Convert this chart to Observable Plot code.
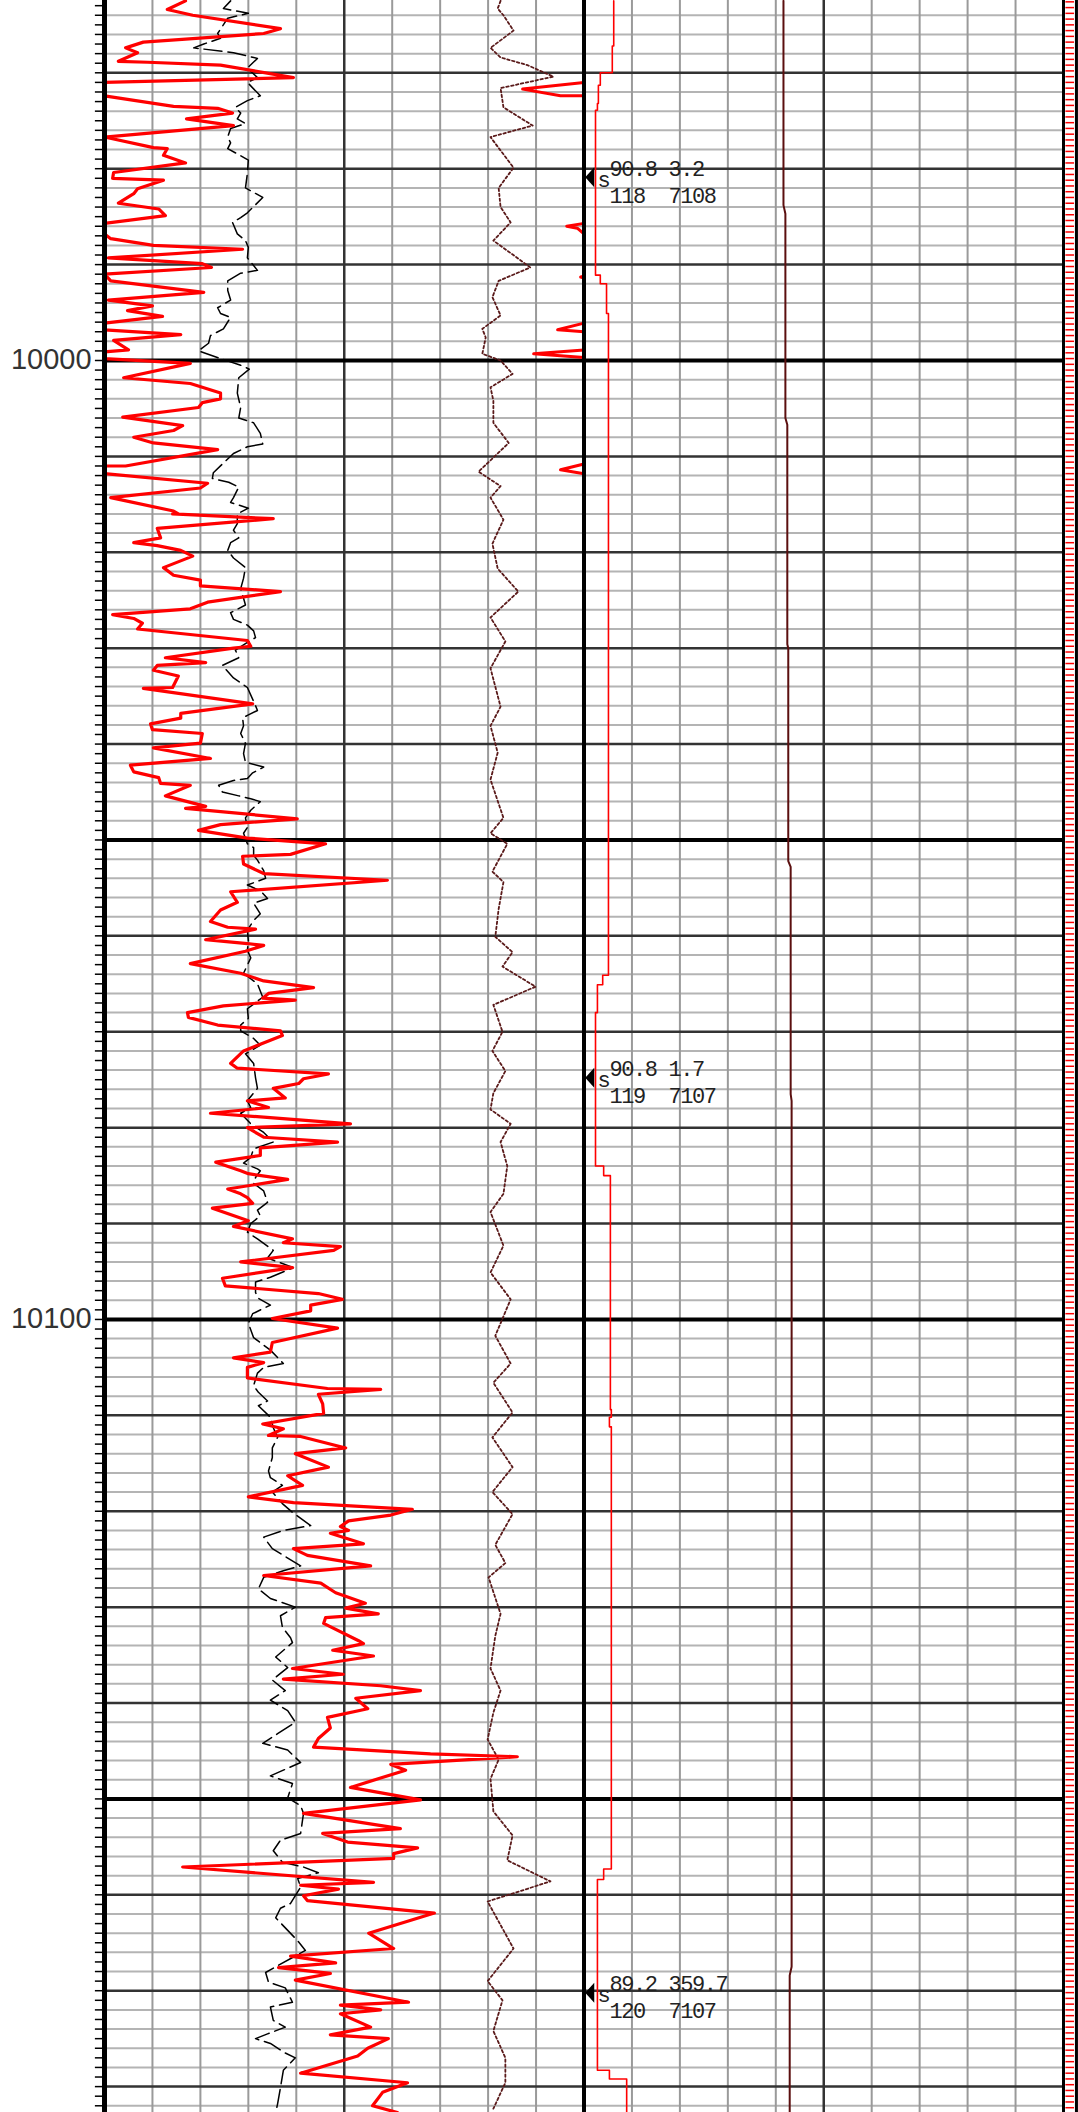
<!DOCTYPE html>
<html>
<head>
<meta charset="utf-8">
<script src="https://cdn.jsdelivr.net/npm/d3@7"></script>
<script src="https://cdn.jsdelivr.net/npm/@observablehq/plot@0.6"></script>
<style>
  html, body { margin: 0; padding: 0; background: #fff; }
  svg { display: block; }
  .survey text { letter-spacing: -1.4px; }
</style>
</head>
<body>
<div id="chart"></div>
<script>
// ---- depth window and labels (ft) ----
const depthTop = 9962.46;
const depthBottom = 10182.70;
const depthLabels = [10000, 10100];

// ---- curves: [depth (ft), value (chart divisions, 0..20)] ----
const grCurve = [
[9962.5,1.69],[9963.4,1.31],[9964.0,1.84],[9965.4,3.67],[9965.9,3.32],[9966.8,0.81],[9967.4,0.44],[9967.9,0.69],[9968.8,0.29],[9968.9,0.90],
[9969.2,2.42],[9970.5,3.94],[9971.0,0],[9972.4,0],[9973.5,1.44],[9973.7,2.36],[9974.2,2.67],[9974.8,1.71],[9975.5,2.69],[9976.7,0],
[9977.8,1.02],[9977.9,1.31],[9978.6,1.23],[9979.4,1.69],[9980.4,0.19],[9981.0,0.17],[9981.2,1.23],[9982.1,0.69],[9982.6,0.61],[9983.6,0.29],
[9984.2,1.13],[9984.9,1.27],[9985.7,0],[9986.8,0],[9987.3,0.13],[9988.0,1.02],[9988.4,2.88],[9989.3,0.08],[9989.9,2.04],[9990.3,2.23],
[9991.0,0],[9991.7,0.13],[9992.9,2.07],[9993.7,0.08],[9994.3,1.0],[9994.8,0.48],[9995.4,1.21],[9996.1,0],[9996.8,0],[9997.3,1.59],
[9997.9,0.19],[9998.9,0.5],[9999.1,0],[9999.8,0],[10000.3,1.79],[10001.8,0.40],[10002.4,1.79],[10003.4,2.42],[10004.0,2.42],[10004.4,2.04],
[10004.9,1.96],[10005.9,0.38],[10006.8,1.63],[10007.3,1.44],[10008.0,0.61],[10008.6,1.02],[10009.3,2.36],[10011.0,0.44],[10011.0,0],[10011.8,0],
[10012.8,2.15],[10013.3,2.0],[10014.3,0.13],[10015.7,1.44],[10016.0,1.54],[10016.0,1.42],[10016.5,3.52],[10017.5,1.1],[10018.5,1.17],[10019.0,0.61],
[10019.3,1.1],[10019.8,1.59],[10020.4,1.84],[10021.6,1.23],[10022.4,1.44],[10022.9,2.0],[10023.5,2.0],[10024.1,3.67],[10025.2,2.15],[10025.9,1.79],
[10026.5,0.17],[10026.9,0.61],[10027.4,0.79],[10028.0,0.69],[10029.2,2.98],[10029.8,3.05],[10030.0,2.69],[10031.0,1.27],[10031.5,2.11],[10031.8,1.1],
[10032.3,1.02],[10032.9,1.54],[10034.1,1.42],[10034.2,0.81],[10035.8,3.09],[10036.8,1.59],[10037.3,1.59],[10037.9,0.96],[10038.5,1.0],[10038.9,2.04],
[10039.9,2.0],[10040.4,1.02],[10041.5,2.21],[10042.2,0.54],[10042.9,0.61],[10043.5,1.13],[10044.1,1.17],[10044.3,1.79],[10045.4,1.27],[10046.5,2.11],
[10046.7,1.69],[10047.8,4.02],[10048.4,2.42],[10049.0,1.96],[10049.8,2.98],[10050.4,4.61],[10051.5,3.88],[10051.7,2.88],[10052.5,2.9],[10053.5,3.32],
[10054.2,5.90],[10055.4,2.63],[10056.5,2.77],[10057.3,2.42],[10058.5,2.21],[10059.1,2.57],[10059.3,3.15],[10060.4,2.11],[10060.8,2.98],[10061.0,3.32],
[10061.6,2.94],[10062.9,1.79],[10063.9,2.84],[10064.7,3.32],[10065.4,4.36],[10066.0,3.42],[10066.5,3.30],[10066.7,3.98],[10067.3,2.48],[10068.0,1.73],
[10068.5,1.75],[10069.3,2.36],[10069.9,3.67],[10070.4,3.71],[10072.0,2.90],[10073.3,2.63],[10073.8,2.77],[10074.4,4.67],[10074.9,4.15],[10075.4,4.05],
[10075.9,3.52],[10076.9,3.77],[10077.2,2.98],[10077.9,3.42],[10078.5,2.21],[10078.9,3.32],[10079.6,5.13],[10080.0,2.98],[10081.0,3.32],[10081.5,4.86],
[10082.1,3.25],[10082.9,3.25],[10083.6,2.32],[10084.5,2.84],[10084.8,3.0],[10085.4,3.82],[10086.4,2.57],[10086.9,2.84],[10087.3,2.98],[10087.9,3.09],
[10088.4,2.25],[10089.7,3.0],[10090.3,2.69],[10091.6,3.92],[10092.0,3.73],[10092.4,4.92],[10092.8,4.78],[10094.0,2.84],[10094.6,3.92],[10095.7,2.46],
[10096.5,2.52],[10097.3,4.46],[10097.9,4.96],[10098.5,4.30],[10099.1,4.30],[10099.9,3.50],[10100.9,4.86],[10102.4,3.50],[10103.4,3.46],[10104.0,2.69],
[10104.5,3.32],[10105.0,2.98],[10106.1,2.98],[10107.2,4.65],[10107.3,5.76],[10107.8,4.46],[10108.8,4.55],[10109.8,4.57],[10110.9,3.30],[10111.4,3.73],
[10112.1,3.42],[10112.2,4.09],[10113.4,5.03],[10114.0,3.98],[10115.4,4.67],[10116.3,3.82],[10117.3,4.13],[10118.5,3.0],[10119.1,3.94],[10119.8,6.42],
[10120.4,5.97],[10121.0,5.09],[10121.6,4.92],[10122.0,5.09],[10122.3,4.71],[10123.4,5.40],[10123.9,3.94],[10124.6,4.23],[10125.7,5.55],[10126.7,3.32],
[10127.5,4.51],[10128.5,4.82],[10129.6,5.44],[10130.1,5.03],[10130.7,5.71],[10131.1,4.61],[10131.7,4.57],[10133.5,5.30],[10133.8,5.40],[10134.5,4.76],
[10135.1,5.61],[10136.4,3.92],[10137.0,4.98],[10137.5,3.73],[10138.2,5.76],[10138.7,6.59],[10139.5,5.24],[10140.6,5.49],[10141.5,4.65],[10142.6,4.71],
[10143.7,4.46],[10144.6,4.36],[10145.3,6.80],[10145.6,8.61],[10146.4,5.97],[10147.0,6.28],[10148.8,5.13],[10150.1,6.59],[10151.5,4.15],[10153.1,6.17],
[10153.6,4.55],[10154.5,5.07],[10155.1,6.53],[10155.7,6.03],[10156.2,6.03],[10157.1,1.63],[10158.7,5.61],[10159.0,4.09],[10159.4,4.88],[10160.1,4.15],
[10160.6,4.23],[10161.9,6.88],[10164.0,5.51],[10165.6,6.03],[10166.4,3.88],[10167.1,4.82],[10167.6,3.63],[10168.2,4.71],[10168.9,3.98],[10171.2,6.34],
[10171.5,4.92],[10172.0,5.76],[10172.4,4.92],[10173.8,5.55],[10174.6,4.71],[10175.0,5.92],[10176.0,5.49],[10176.8,5.28],[10178.6,4.09],[10179.6,6.32],
[10180.6,5.80],[10182.0,5.59],[10182.7,6.11]
];

const spCurve = [
[9962.5,2.63],[9963.3,2.48],[9963.8,3.0],[9964.3,2.57],[9965.9,2.36],[9966.4,2.42],[9967.0,2.07],[9967.4,1.86],[9967.9,2.69],[9968.5,3.19],
[9969.5,2.98],[9970.5,3.19],[9971.0,2.98],[9972.4,3.25],[9972.9,2.98],[9973.6,2.73],[9974.2,2.84],[9974.8,2.77],[9975.3,2.94],[9975.8,2.63],
[9976.7,2.57],[9977.3,2.63],[9977.9,2.57],[9979.1,3.0],[9980.5,2.98],[9982.0,2.94],[9983.0,3.3],[9984.6,2.98],[9985.1,2.84],[9985.6,2.67],
[9986.8,2.77],[9987.5,2.94],[9988.2,3.0],[9989.3,2.98],[9990.6,3.19],[9990.9,2.84],[9991.7,2.57],[9992.7,2.57],[9993.7,2.63],[9994.5,2.36],
[9995.1,2.42],[9995.5,2.63],[9996.7,2.48],[9997.4,2.21],[9998.2,2.17],[9999.0,1.96],[9999.8,2.42],[10000.5,2.84],[10000.9,3.02],[10001.8,2.8],
[10003.4,2.77],[10004.9,2.84],[10006.0,2.8],[10006.5,3.11],[10007.6,3.25],[10008.7,3.3],[10009.0,2.98],[10009.7,2.69],[10010.7,2.48],[10011.7,2.27],
[10012.3,2.25],[10012.7,2.59],[10013.2,2.8],[10014.3,2.69],[10014.8,2.63],[10015.4,3.0],[10016.0,2.77],[10017.0,2.77],[10017.7,2.69],[10018.5,2.8],
[10019.0,2.63],[10019.8,2.57],[10020.6,2.69],[10021.6,2.94],[10022.7,2.9],[10023.8,2.84],[10024.8,2.9],[10025.5,2.94],[10026.3,2.63],[10027.0,2.69],
[10027.6,2.98],[10028.2,3.11],[10028.9,3.15],[10029.4,2.98],[10030.2,2.73],[10031.0,2.8],[10031.8,2.46],[10033.1,2.69],[10034.1,2.98],[10036.0,3.15],
[10036.5,3.19],[10037.0,2.98],[10037.3,2.88],[10038.1,2.9],[10038.9,2.84],[10039.9,2.94],[10041.0,2.9],[10041.9,2.94],[10042.4,3.32],[10043.0,3.09],
[10043.6,2.98],[10043.8,2.69],[10044.3,2.38],[10045.0,2.46],[10045.4,2.8],[10045.7,3.05],[10046.0,3.25],[10046.9,3.05],[10047.7,2.94],[10048.7,2.98],
[10049.3,2.9],[10050.4,2.98],[10050.8,3.11],[10051.6,3.11],[10052.1,3.19],[10053.2,3.32],[10054.0,3.36],[10054.7,2.98],[10055.3,3.25],[10056.1,3.4],
[10056.6,3.11],[10057.7,3.25],[10058.4,3.11],[10059.4,2.98],[10060.5,3.0],[10061.5,2.98],[10062.3,3.05],[10063.9,2.9],[10065.0,3.19],[10066.4,3.3],
[10067.6,2.98],[10068.6,3.0],[10069.3,2.84],[10069.9,2.84],[10070.7,3.11],[10071.4,3.25],[10072.3,2.94],[10073.3,3.11],[10074.8,3.15],[10075.9,3.19],
[10077.2,2.98],[10077.9,3.05],[10078.5,2.84],[10079.6,3.05],[10080.5,3.32],[10081.5,3.52],[10082.2,3.11],[10083.1,3.05],[10083.7,2.9],[10084.3,3.19],
[10084.5,3.25],[10085.2,3.15],[10085.8,3.11],[10086.6,3.32],[10087.8,3.4],[10088.6,3.19],[10089.2,3.25],[10090.0,3.05],[10090.9,2.98],[10091.6,3.19],
[10092.8,3.52],[10093.6,3.4],[10094.6,3.94],[10095.6,3.46],[10096.1,3.15],[10097.2,3.15],[10097.8,3.21],[10098.5,3.46],[10099.4,3.09],[10100.4,3.0],
[10101.9,3.11],[10103.2,3.46],[10104.6,3.73],[10105.0,3.32],[10105.6,3.19],[10106.9,3.11],[10107.6,3.21],[10108.5,3.4],[10109.0,3.21],[10110.2,3.46],
[10111.3,3.52],[10112.3,3.61],[10113.4,3.5],[10114.4,3.5],[10115.8,3.42],[10116.5,3.46],[10117.3,3.71],[10118.0,3.5],[10119.2,3.71],[10120.2,3.94],
[10121.5,4.3],[10122.0,3.73],[10122.7,3.32],[10123.9,3.5],[10125.7,4.09],[10126.2,3.73],[10126.9,3.32],[10128.1,3.21],[10129.1,3.46],[10130.0,3.98],
[10130.9,3.67],[10132.1,3.71],[10133.2,3.88],[10133.7,3.92],[10135.2,3.57],[10136.3,3.82],[10137.6,3.5],[10138.7,3.77],[10139.7,3.46],[10140.8,3.82],
[10142.0,3.98],[10143.2,3.61],[10144.2,3.3],[10144.9,3.82],[10146.2,4.09],[10147.6,3.46],[10148.4,3.92],[10149.9,3.82],[10150.7,4.09],[10151.5,4.15],
[10153.6,4.09],[10154.3,3.67],[10155.4,3.52],[10156.6,3.71],[10157.1,4.15],[10157.7,4.46],[10158.3,4.03],[10159.2,4.09],[10160.9,3.88],[10161.4,3.67],
[10162.4,3.57],[10164.8,4.03],[10165.8,4.19],[10167.4,3.61],[10168.1,3.36],[10169.1,3.42],[10169.7,3.77],[10171.2,3.92],[10171.7,3.46],[10173.1,3.52],
[10173.8,3.77],[10174.5,3.4],[10175.0,3.15],[10175.5,3.46],[10176.5,3.77],[10177.0,3.98],[10178.3,3.73],[10180.1,3.67],[10181.8,3.61],[10182.7,3.57]
];

const dottedCurve = [
[9962.5,8.26],[9963.3,8.20],[9964.0,8.32],[9965.6,8.53],[9967.4,8.05],[9968.4,8.26],[9969.2,8.82],[9970.4,9.36],[9971.6,8.26],[9973.6,8.32],
[9975.5,8.93],[9976.7,8.05],[9978.1,8.26],[9979.9,8.53],[9982.0,8.22],[9984.0,8.26],[9985.6,8.47],[9987.5,8.11],[9988.8,8.47],[9990.3,8.88],
[9991.7,8.22],[9993.4,8.09],[9995.3,8.26],[9996.7,7.88],[9997.6,7.95],[9999.3,7.88],[10000.0,8.26],[10001.4,8.51],[10002.8,8.05],[10004.2,8.11],
[10006.5,8.11],[10008.6,8.43],[10011.6,7.80],[10013.1,8.26],[10014.3,8.05],[10016.6,8.32],[10019.1,8.09],[10021.7,8.20],[10024.1,8.63],[10026.8,8.05],
[10029.3,8.36],[10032.1,8.05],[10036.1,8.26],[10038.1,8.05],[10040.9,8.20],[10043.7,8.05],[10047.7,8.32],[10049.3,8.05],[10050.4,8.40],[10053.3,8.09],
[10054.4,8.32],[10057.2,8.22],[10060.1,8.15],[10061.7,8.51],[10063.2,8.30],[10065.3,8.99],[10067.2,8.11],[10070.0,8.30],[10072.0,8.09],[10074.1,8.36],
[10076.4,8.11],[10078.1,8.05],[10079.6,8.47],[10081.5,8.26],[10084.0,8.40],[10086.9,8.32],[10088.8,8.05],[10092.3,8.32],[10095.1,8.05],[10097.9,8.47],
[10101.7,8.15],[10104.6,8.47],[10106.6,8.11],[10109.7,8.51],[10112.3,8.09],[10115.4,8.51],[10118.0,8.09],[10120.3,8.51],[10123.5,8.15],[10125.4,8.36],
[10126.9,8.01],[10130.7,8.26],[10133.0,8.15],[10136.4,8.05],[10138.7,8.26],[10141.0,8.11],[10143.8,7.99],[10145.9,8.22],[10147.9,8.05],[10151.3,8.11],
[10153.8,8.51],[10156.4,8.40],[10158.6,9.30],[10160.7,7.99],[10165.6,8.53],[10169.0,7.99],[10171.0,8.30],[10174.2,8.11],[10177.0,8.36],[10179.6,8.36],
[10182.3,8.11]
];

// short excursions of the second red curve, which otherwise sits at the 10-division line
const backupSpikes = [
["a",9971.0,10],["a",9971.7,8.72],["a",9972.4,9.51],["a",9972.4,10],
["b",9985.7,10],["b",9986.0,9.64],["b",9986.2,9.86],["b",9986.8,10],
["c",9991.2,10],["c",9991.3,9.93],["c",9991.4,10],
["d",9996.1,10],["d",9996.8,9.45],["d",9997.0,10],
["e",9998.9,10],["e",9999.3,8.95],["e",9999.7,10],
["f",10010.8,10],["f",10011.4,9.51],["f",10011.8,10]
];

// step curve in track 2: [start depth of interval, value]
const stepCurve = [
[9962.5,10.62],[9967.2,10.59],[9970.0,10.34],[9971.3,10.30],[9973.2,10.28],[9973.9,10.24],[9991.1,10.34],[9992.0,10.47],[9995.1,10.51],
[10064.1,10.39],[10065.1,10.28],[10068.0,10.24],[10084.0,10.41],[10085.0,10.55],[10109.4,10.57],[10110.2,10.53],[10111.2,10.57],
[10157.3,10.41],[10158.4,10.28],[10178.3,10.53],[10179.2,10.89],[10182.7,10.89]
];

const maroonCurve = [
[9962.5,14.16],[9983.8,14.16],[9984.7,14.20],[10006.0,14.20],[10006.7,14.24],[10029.6,14.24],[10030.0,14.26],[10052.2,14.26],
[10052.8,14.31],[10076.5,14.31],[10077.2,14.33],[10167.5,14.33],[10168.4,14.29],[10182.7,14.29]
];

// survey annotations
const surveyDepth = [9980.9, 10074.8, 10170.2];
const surveyRow1a = ["90.8", "90.8", "89.2"];
const surveyRow1b = ["3.2", "1.7", "359.7"];
const surveyRow2a = ["118", "119", "120"];
const surveyRow2b = ["7108", "7107", "7107"];

// ---- build tables ----
const toRows = arr => arr.map(([depth, value]) => ({depth, value}));
const gr = toRows(grCurve);
const sp = toRows(spCurve);
const dotted = toRows(dottedCurve);
const step = toRows(stepCurve);
const maroon = toRows(maroonCurve);
const spikes = backupSpikes.map(([id, depth, value]) => ({id, depth, value}));
const surveys = surveyDepth.map((depth, i) => ({
  depth, r1a: surveyRow1a[i], r1b: surveyRow1b[i], r2a: surveyRow2a[i], r2b: surveyRow2b[i]
}));

// grid depths
const grid2 = d3.range(9964, 10183, 2).filter(d => d % 10 !== 0);
const grid10 = d3.range(9970, 10183, 10).filter(d => d % 50 !== 0);
const grid50 = d3.range(10000, 10183, 50);
const tick1 = d3.range(9963, 10183, 1);
const ladder = d3.range(9962.6, 10182.7, 0.6);

const colsThin = d3.range(1, 20).filter(c => c % 5 !== 0);
const colsMid = [5, 15];

const leftTriangle = {
  draw(context) {
    context.moveTo(-4.5, 0);
    context.lineTo(4.5, -10);
    context.lineTo(4.5, 10);
    context.closePath();
  }
};

const monoFont = "'Liberation Mono', 'DejaVu Sans Mono', monospace";
const surveyText = (text, xv, dy) => Plot.text(surveys, {
  x: () => xv, y: "depth", text, textAnchor: "start", dy,
  fontFamily: monoFont, fontSize: 22, fill: "#222", className: "survey"
});

const chart = Plot.plot({
  width: 1078,
  height: 2112,
  marginLeft: 104,
  marginRight: 15,
  marginTop: 0,
  marginBottom: 0,
  style: {background: "#fff", overflow: "visible"},
  x: {domain: [0, 20], range: [104, 1063], axis: null},
  y: {domain: [depthTop, depthBottom], range: [0, 2112], axis: null},
  marks: [
    // horizontal grid
    Plot.ruleY(grid2, {stroke: "#b4b4b4", strokeWidth: 2}),
    // vertical grid
    Plot.ruleX(colsThin, {stroke: "#9a9a9a", strokeWidth: 2}),
    Plot.ruleY(grid10, {stroke: "#333", strokeWidth: 2.5}),
    Plot.ruleX(colsMid, {stroke: "#333", strokeWidth: 2.5}),
    Plot.ruleY(grid50, {stroke: "#000", strokeWidth: 4}),
    // left depth ticks
    Plot.ruleY(tick1, {x1: -0.19, x2: -0.03, stroke: "#000", strokeWidth: 1.5}),
    // right ladder strip
    Plot.ruleY(ladder, {x1: 20.05, x2: 20.23, stroke: "#ff0000", strokeWidth: 1.5}),
    Plot.ruleX([20.27], {stroke: "#000", strokeWidth: 3}),
    // curves
    Plot.line(dotted, {x: "value", y: "depth", stroke: "#5a1a1a", strokeWidth: 1.8, strokeDasharray: "2.5,2.5"}),
    Plot.line(sp, {x: "value", y: "depth", stroke: "#000", strokeWidth: 1.5, strokeDasharray: "18,6"}),
    Plot.line(gr, {x: "value", y: "depth", stroke: "#ff0000", strokeWidth: 3.2}),
    Plot.line(spikes, {x: "value", y: "depth", z: "id", stroke: "#ff0000", strokeWidth: 3}),
    Plot.line(step, {x: "value", y: "depth", curve: "step-before", stroke: "#ff0000", strokeWidth: 1.6}),
    Plot.line(maroon, {x: "value", y: "depth", stroke: "#5b0f0f", strokeWidth: 2}),
    // strong verticals on top
    Plot.ruleX([0], {stroke: "#000", strokeWidth: 5}),
    Plot.ruleX([10], {stroke: "#000", strokeWidth: 4}),
    Plot.ruleX([20], {stroke: "#000", strokeWidth: 3}),
    // depth labels
    Plot.text(depthLabels, {x: () => -0.27, y: d => d, text: d => String(d), textAnchor: "end",
      fontFamily: "'Liberation Sans', Arial, sans-serif", fontSize: 29, fill: "#333", dy: -1}),
    // survey annotations
    Plot.dot(surveys, {x: () => 10.12, y: "depth", symbol: leftTriangle, fill: "#000", stroke: null}),
    surveyText(() => "s", 10.28, 2.6),
    surveyText("r1a", 10.53, -8.4),
    surveyText("r1b", 11.76, -8.4),
    surveyText("r2a", 10.53, 18.6),
    surveyText("r2b", 11.76, 18.6)
  ]
});

document.getElementById("chart").appendChild(chart);
</script>
</body>
</html>
